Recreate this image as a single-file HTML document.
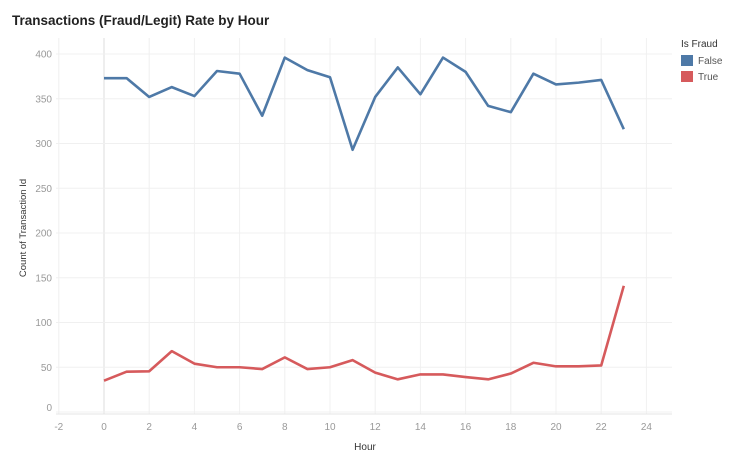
<!DOCTYPE html>
<html><head><meta charset="utf-8"><style>
body{margin:0;background:#fff;font-family:"Liberation Sans",sans-serif;}
svg text{font-family:"Liberation Sans",sans-serif;}
</style></head><body>
<svg width="740" height="461">
<text x="12" y="25" font-size="13.5" font-weight="bold" fill="#222">Transactions (Fraud/Legit) Rate by Hour</text>
<g id="grid"></g>
<g id="axes"></g>
<g id="series"></g>
<text x="365" y="450" font-size="10" fill="#333" text-anchor="middle">Hour</text>
<text transform="translate(26,228) rotate(-90)" font-size="9.5" fill="#333" text-anchor="middle">Count of Transaction Id</text>
<g>
<text x="681" y="47" font-size="10" fill="#333">Is Fraud</text>
<g><rect x="681" y="55" width="12" height="11" fill="#4e79a7"/><text x="698" y="64" font-size="10" fill="#555">False</text></g>
<g><rect x="681" y="71" width="12" height="11" fill="#d65a5c"/><text x="698" y="80" font-size="10" fill="#555">True</text></g>
</g>
</svg>
<script>
const hours=[0,1,2,3,4,5,6,7,8,9,10,11,12,13,14,15,16,17,18,19,20,21,22,23];
const falseCounts=[373,373,352,363,353,381,378,331,396,382,374,293,352,385,355,396,380,342,335,378,366,368,371,316];
const trueCounts=[35,45,45.5,68,54,50,50,48,61,48,50,58,44,36.5,42,42,39,36.5,43,55,51,51,52,141];
const xTicks=[-2,0,2,4,6,8,10,12,14,16,18,20,22,24];
const yTicks=[0,50,100,150,200,250,300,350,400];
const NS="http://www.w3.org/2000/svg";
const xs=v=>104+v*22.6;
const ys=v=>412-v*0.895;
function mk(tag,attrs,parent){const e=document.createElementNS(NS,tag);for(const k in attrs)e.setAttribute(k,attrs[k]);parent.appendChild(e);return e;}
const grid=document.getElementById('grid'),axes=document.getElementById('axes'),series=document.getElementById('series');
xTicks.forEach(t=>{
 const l=mk('line',{x1:xs(t),x2:xs(t),y1:38,y2:414,stroke:t===0?'#ddd':'#f0f0f0','stroke-width':1},grid);
 
 
 const tx=mk('text',{x:xs(t),y:430,'font-size':10,fill:'#999','text-anchor':'middle'},axes);
 tx.textContent=t;
 
 
});
yTicks.forEach(t=>{
 const l=mk('line',{x1:56,x2:672,y1:ys(t),y2:ys(t),stroke:'#f0f0f0','stroke-width':1},grid);
 
 
 const tx=mk('text',{x:52,y:ys(t)+(t===0?-1:3.5),'font-size':10,fill:'#999','text-anchor':'end'},axes);
 tx.textContent=t;
 
 
});
const ax=mk('line',{x1:56,x2:672,y1:414,y2:414,stroke:'#e6e6e6'},axes);


function line(vals,color,name){
 const p=mk('polyline',{points:vals.map((v,i)=>xs(hours[i])+','+ys(v)).join(' '),fill:'none',stroke:color,'stroke-width':2.6,'stroke-linejoin':'round'},series);
 
 
}
line(falseCounts,'#4e79a7','line-false');
line(trueCounts,'#d65a5c','line-true');
</script>
</body></html>
